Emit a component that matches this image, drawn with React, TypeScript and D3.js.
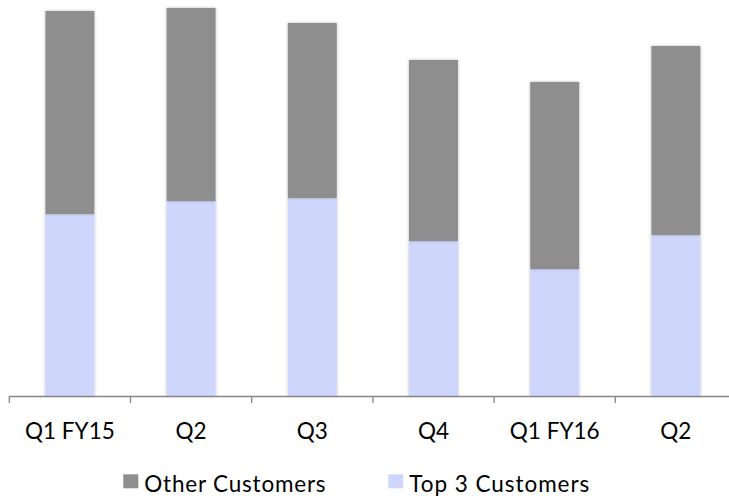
import React from "react";
import * as d3 from "d3";

const categories = ["Q1 FY15", "Q2", "Q3", "Q4", "Q1 FY16", "Q2"];
const top3Customers = [182, 195, 198, 155, 127, 161];
const otherCustomers = [203, 193, 175, 181, 187, 189];
const seriesNames = ["Other Customers", "Top 3 Customers"];

const W = 729;
const H = 498;
const COLORS = { other: "#8E8E8E", top3: "#CED6FC" };
const FONT = "Lato, 'Liberation Sans', Arial, sans-serif";

export default function App() {
  const x0 = 9.3;
  const step = 121.2;
  const keys = categories.map((_, i) => String(i));
  const x = d3
    .scaleBand<string>()
    .domain(keys)
    .range([x0, x0 + step * categories.length])
    .paddingInner(0.596)
    .paddingOuter(0.298);
  const y = d3.scaleLinear().domain([0, 400]).range([396, -4]);

  const rows = categories.map((c, i) => ({
    key: String(i),
    top3: top3Customers[i],
    other: otherCustomers[i],
  }));
  const stack = d3.stack<any>().keys(["top3", "other"]);
  const stacked = stack(rows);

  const baseY = y(0);
  const ticks = d3.range(categories.length + 1).map((i) => x0 + i * x.step());

  return (
    <svg
      width={W}
      height={H}
      style={{ position: "absolute", left: 0, top: 0, background: "#fff" }}
      fontFamily={FONT}
    >
      <defs>
        <filter id="sh" x="-20%" y="-20%" width="140%" height="140%">
          <feDropShadow dx="0" dy="0" stdDeviation="1.6" floodColor="#000" floodOpacity="0.28" />
        </filter>
      </defs>
      {stacked.map((s) => (
        <g key={s.key} fill={s.key === "top3" ? COLORS.top3 : COLORS.other} filter="url(#sh)">
          {s.map((d: any) => (
            <rect
              key={d.data.key}
              x={x(d.data.key)}
              y={y(d[1])}
              width={x.bandwidth()}
              height={y(d[0]) - y(d[1])}
            />
          ))}
        </g>
      ))}
      <line x1={x0} x2={W + 10} y1={baseY + 0.5} y2={baseY + 0.5} stroke="#868686" strokeWidth={1.3} />
      {ticks.map((t, i) => (
        <line key={i} x1={t} x2={t} y1={baseY} y2={baseY + 7} stroke="#868686" strokeWidth={1.3} />
      ))}
      {categories.map((c, i) => (
        <text
          key={i}
          x={(x(String(i)) as number) + x.bandwidth() / 2}
          y={439}
          textAnchor="middle"
          fontSize={22.5}
          fill="#000"
        >
          {c}
        </text>
      ))}
      <g>
        <rect x={123.3} y={474.3} width={15} height={14} fill={COLORS.other} />
        <text x={144.3} y={491.7} fontSize={22.5} letterSpacing={0.8} fill="#000">
          {seriesNames[0]}
        </text>
        <rect x={388.3} y={474.3} width={15} height={14} fill={COLORS.top3} />
        <text x={409.3} y={491.7} fontSize={22.5} letterSpacing={0.95} fill="#000">
          {seriesNames[1]}
        </text>
      </g>
    </svg>
  );
}
